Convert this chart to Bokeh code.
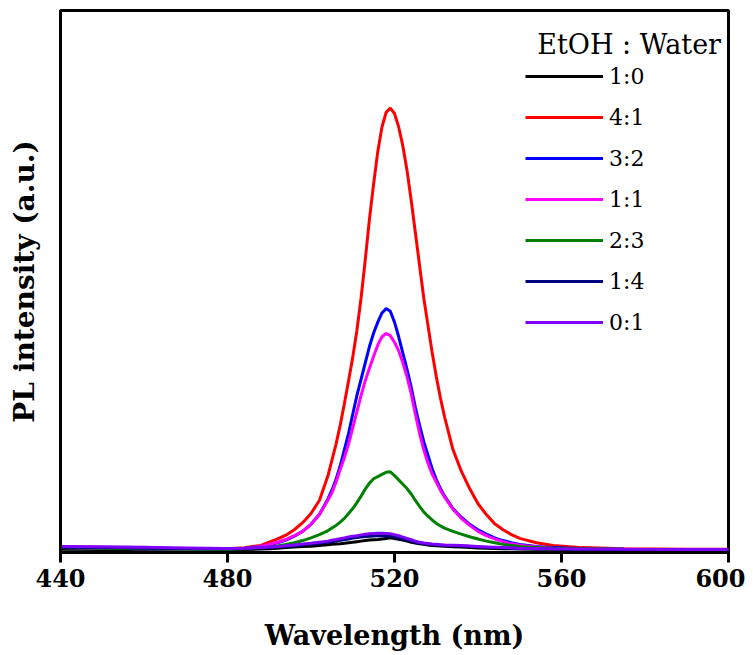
from bokeh.plotting import figure
from bokeh.models import Range1d, FixedTicker, Legend, LegendItem, Label
from bokeh.embed import file_html
from bokeh.resources import INLINE

# ---- data ----
wavelength = [440, 450, 460, 470, 480, 484, 488, 490, 492, 494, 496, 498, 500, 502, 504,
              505, 506, 507, 508, 509, 510, 511, 512, 513, 514, 515, 516, 517, 518, 519,
              520, 521, 522, 523, 524, 525, 526, 527, 528, 529, 530, 531, 532,
              534, 536, 538, 540, 542, 544, 546, 548, 550, 554, 558, 565, 575, 590, 600]

s_1_0 = [0.6, 0.55, 0.5, 0.5, 0.5, 0.55, 0.65, 0.7, 0.8, 0.9, 1.0, 1.1, 1.15, 1.3, 1.45,
         1.5, 1.55, 1.6, 1.7, 1.8, 1.9, 2.0, 2.1, 2.2, 2.3, 2.35, 2.4, 2.5, 2.6, 2.7,
         2.6, 2.45, 2.3, 2.1, 1.9, 1.75, 1.6, 1.5, 1.4, 1.3, 1.25, 1.2, 1.15,
         1.05, 1.0, 0.9, 0.85, 0.8, 0.75, 0.7, 0.7, 0.65, 0.6, 0.6, 0.55, 0.5, 0.5, 0.5]

s_4_1 = [1.0, 0.9, 0.8, 0.7, 0.7, 0.9, 1.3, 1.9, 2.5, 3.2, 4.2, 5.5, 7.2, 9.6, 14.0,
         17.0, 20.0, 23.5, 27.5, 31.7, 36.0, 41.0, 47.0, 54.0, 61.5, 68.0, 74.0, 78.5, 81.2, 82.0,
         81.0, 78.5, 75.0, 70.5, 65.0, 59.0, 53.0, 47.0, 42.0, 37.0, 32.5, 28.5, 25.0,
         19.0, 15.0, 11.8, 9.0, 7.0, 5.3, 4.2, 3.3, 2.6, 1.8, 1.3, 0.9, 0.7, 0.6, 0.6]

s_3_2 = [0.9, 0.8, 0.7, 0.6, 0.7, 0.8, 1.1, 1.4, 1.8, 2.3, 3.0, 3.9, 5.2, 7.0, 9.8,
         11.5, 13.5, 16.0, 19.0, 22.0, 25.5, 29.0, 32.0, 35.0, 38.0, 40.5, 42.5, 44.2, 45.0, 44.5,
         42.5, 39.8, 36.8, 33.8, 30.5, 26.8, 23.5, 20.5, 18.0, 15.5, 13.5, 11.8, 10.4,
         8.1, 6.5, 5.2, 4.2, 3.4, 2.7, 2.2, 1.8, 1.5, 1.1, 0.9, 0.7, 0.6, 0.5, 0.5]

s_1_1 = [0.9, 0.8, 0.7, 0.6, 0.7, 0.8, 1.1, 1.5, 1.9, 2.4, 3.1, 3.9, 5.2, 7.0, 9.6,
         11.0, 13.0, 15.3, 17.5, 20.0, 23.0, 26.0, 29.0, 31.7, 34.0, 36.2, 38.3, 39.8, 40.4, 40.0,
         38.8, 37.2, 35.0, 32.4, 29.3, 25.5, 22.0, 19.0, 16.5, 14.5, 13.0, 11.5, 10.2,
         8.0, 6.3, 5.0, 3.9, 3.1, 2.5, 2.0, 1.6, 1.35, 1.0, 0.8, 0.65, 0.6, 0.5, 0.5]

s_2_3 = [0.9, 0.8, 0.7, 0.6, 0.6, 0.7, 0.9, 1.0, 1.2, 1.5, 1.8, 2.2, 2.7, 3.3, 4.0,
         4.5, 5.0, 5.6, 6.3, 7.2, 8.1, 9.2, 10.4, 11.7, 12.8, 13.6, 14.0, 14.4, 14.8, 14.9,
         14.2, 13.4, 12.6, 11.8, 10.8, 9.6, 8.5, 7.5, 6.7, 6.0, 5.4, 4.9, 4.5,
         3.9, 3.4, 2.9, 2.5, 2.1, 1.8, 1.5, 1.3, 1.1, 0.9, 0.8, 0.7, 0.6, 0.5, 0.5]

s_1_4 = [0.95, 0.9, 0.8, 0.75, 0.7, 0.75, 0.85, 0.9, 1.0, 1.1, 1.25, 1.4, 1.55, 1.7, 1.9,
         2.0, 2.1, 2.25, 2.4, 2.5, 2.65, 2.75, 2.85, 2.95, 3.0, 3.05, 3.1, 3.1, 3.05, 3.0,
         2.9, 2.7, 2.5, 2.3, 2.1, 1.9, 1.75, 1.6, 1.5, 1.45, 1.4, 1.35, 1.3,
         1.25, 1.2, 1.1, 1.0, 0.95, 0.9, 0.85, 0.8, 0.75, 0.7, 0.65, 0.6, 0.55, 0.5, 0.5]

s_0_1 = [1.1, 1.05, 0.95, 0.85, 0.75, 0.8, 0.9, 1.0, 1.1, 1.25, 1.4, 1.55, 1.7, 1.9, 2.1,
         2.25, 2.4, 2.55, 2.7, 2.85, 3.0, 3.1, 3.25, 3.35, 3.45, 3.5, 3.55, 3.55, 3.5, 3.45,
         3.3, 3.1, 2.85, 2.6, 2.35, 2.1, 1.9, 1.75, 1.65, 1.55, 1.5, 1.45, 1.4,
         1.35, 1.3, 1.2, 1.1, 1.0, 0.95, 0.9, 0.85, 0.8, 0.75, 0.7, 0.65, 0.6, 0.55, 0.55]

series_labels = ["1:0", "4:1", "3:2", "1:1", "2:3", "1:4", "0:1"]
series_values = [s_1_0, s_4_1, s_3_2, s_1_1, s_2_3, s_1_4, s_0_1]
series_colors = ["#000000", "#ff0000", "#0000ff", "#ff00ff", "#008000", "#000080", "#8000ff"]

x_ticks = [440, 480, 520, 560, 600]
legend_title = "EtOH : Water"

SERIF = "DejaVu Serif"

p = figure(width=745, height=655, output_backend="svg", toolbar_location=None,
           x_range=Range1d(440, 600), y_range=Range1d(0, 100),
           min_border_left=60, min_border_right=17, min_border_top=10, min_border_bottom=103)

p.xgrid.visible = False
p.ygrid.visible = False
p.outline_line_color = "black"
p.outline_line_width = 3
p.background_fill_color = "white"
p.border_fill_color = "white"

# x axis
xa = p.xaxis[0]
xa.ticker = FixedTicker(ticks=x_ticks)
xa.axis_line_width = 3
xa.major_tick_line_width = 3
xa.major_tick_out = 10
xa.major_tick_in = 0
xa.minor_tick_line_color = None
xa.major_label_text_font = SERIF
xa.major_label_text_font_style = "bold"
xa.major_label_text_font_size = "24px"
xa.major_label_text_color = "black"
xa.major_label_standoff = 6
xa.axis_label = "Wavelength (nm)"
xa.axis_label_text_font = SERIF
xa.axis_label_text_font_style = "bold"
xa.axis_label_text_font_size = "27px"
xa.axis_label_text_color = "black"
xa.axis_label_standoff = 30

# y axis
ya = p.yaxis[0]
ya.ticker = FixedTicker(ticks=[])
ya.axis_line_width = 3
ya.major_tick_line_color = None
ya.minor_tick_line_color = None
ya.major_label_text_font_size = "0px"
ya.axis_label = "PL intensity (a.u.)"
ya.axis_label_text_font = SERIF
ya.axis_label_text_font_style = "bold"
ya.axis_label_text_font_size = "28px"
ya.axis_label_text_color = "black"
ya.axis_label_standoff = 20

items = []
for lab, vals, col in zip(series_labels, series_values, series_colors):
    r = p.line(wavelength, vals, line_color=col, line_width=3)
    items.append(LegendItem(label=lab, renderers=[r]))

legend = Legend(items=items, location=(465, 215), padding=0, margin=0,
                glyph_width=78, glyph_height=30, label_height=30, spacing=11,
                label_standoff=6, label_text_font=SERIF, label_text_font_size="22px",
                label_text_color="black", border_line_color=None, background_fill_alpha=0)
p.add_layout(legend)

p.add_layout(Label(x=554.2, y=93.7, text=legend_title, text_font=SERIF,
                   text_font_size="27px", text_baseline="middle", text_align="left",
                   text_color="black"))

open("out.html", "w").write(file_html(p, INLINE))
